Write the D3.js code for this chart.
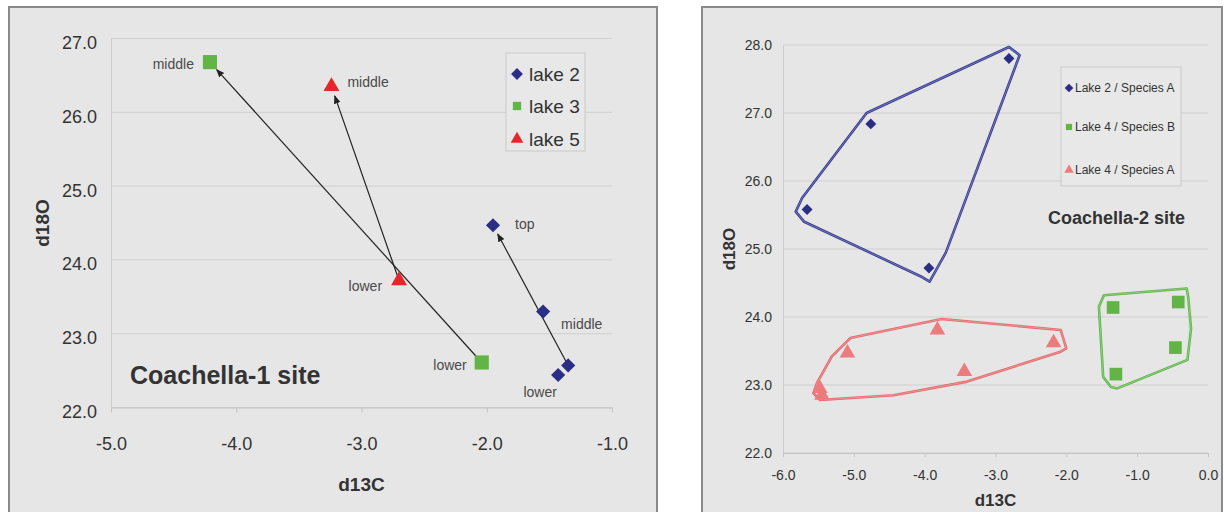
<!DOCTYPE html>
<html>
<head>
<meta charset="utf-8">
<script src="https://cdn.jsdelivr.net/npm/d3@7"></script>
<style>
  body { margin: 0; background: #fff; }
  svg { display: block; font-family: "Liberation Sans", Arial, sans-serif; }
</style>
</head>
<body>
<svg id="chart" width="1224" height="512"></svg>
<script>
// ---------- Coachella-1 site (left chart)
const leftXTicks = [-5, -4, -3, -2, -1]
const leftYTicks = [22, 23, 24, 25, 26, 27]

const lake2X = [-1.95, -1.55, -1.35, -1.43]
const lake2Y = [24.47, 23.30, 22.57, 22.44]
const lake2Labels = ["top", "middle", "", "lower"]

const lake3X = [-4.21, -2.04]
const lake3Y = [26.68, 22.61]
const lake3Labels = ["middle", "lower"]

const lake5X = [-3.24, -2.70]
const lake5Y = [26.35, 23.72]
const lake5Labels = ["middle", "lower"]

// arrows go from point index [0] to point index [1] inside each lake
const lake2Arrow = [2, 0]
const lake3Arrow = [1, 0]
const lake5Arrow = [1, 0]

// ---------- Coachella-2 site (right chart)
const rightXTicks = [-6, -5, -4, -3, -2, -1, 0]
const rightYTicks = [22, 23, 24, 25, 26, 27, 28]

const l2aX = [-2.81, -4.76, -5.66, -3.94]
const l2aY = [27.80, 26.84, 25.58, 24.72]

const l4bX = [-1.34, -0.42, -0.46, -1.30]
const l4bY = [24.14, 24.22, 23.55, 23.16]

const l4aX = [-5.09, -3.82, -3.44, -2.18, -5.48, -5.45]
const l4aY = [23.47, 23.81, 23.20, 23.62, 22.95, 22.85]

// hand drawn outlines around each group
const l2aHullX = [-2.81, -2.66, -3.70, -3.93, -4.06, -5.70, -5.82, -5.73, -4.82]
const l2aHullY = [27.97, 27.85, 24.95, 24.52, 24.60, 25.40, 25.55, 25.75, 27.00]
const l4bHullX = [-1.47, -0.30, -0.28, -0.24, -0.29, -1.28, -1.37, -1.48, -1.54]
const l4bHullY = [24.32, 24.42, 24.30, 23.83, 23.37, 22.95, 22.97, 23.12, 24.15]
const l4aHullX = [-5.57, -5.48, -4.44, -3.40, -2.08, -2.00, -2.08, -3.76, -5.05, -5.31, -5.52]
const l4aHullY = [22.88, 22.78, 22.85, 23.05, 23.49, 23.54, 23.81, 23.97, 23.69, 23.42, 23.03]

const navy = "#2a2e84"
const green = "#62b447"
const red = "#e6262b"
const pink = "#ec7b7d"

const svg = d3.select("#chart")

// marker arrow head
svg.append("defs").append("marker")
    .attr("id", "head")
    .attr("viewBox", "0 0 10 10")
    .attr("refX", 9).attr("refY", 5)
    .attr("markerWidth", 7).attr("markerHeight", 7)
    .attr("orient", "auto")
    .append("path")
    .attr("d", "M0,1 L10,5 L0,9 Z")
    .attr("fill", "#222")

// panel frames
function frame(x0, x1) {
    svg.append("rect")
        .attr("x", x0).attr("y", 7)
        .attr("width", x1 - x0).attr("height", 530)
        .attr("fill", "#e6e6e6")
        .attr("stroke", "#8a8a8a")
        .attr("stroke-width", 2)
}
frame(9, 657)
frame(702, 1222)

function symbolPath(kind, size) {
    if (kind == "diamond") return d3.symbol(d3.symbolSquare, size)()
    if (kind == "square") return d3.symbol(d3.symbolSquare, size)()
    return d3.symbol(d3.symbolTriangle, size)()
}
function symbolRot(kind) { return kind == "diamond" ? " rotate(45)" : "" }

function axes(x, y, xTicks, yTicks, o) {
    let g = svg.append("g")
    // horizontal grid
    g.selectAll("line.grid")
        .data(yTicks)
        .join("line")
        .attr("x1", x.range()[0]).attr("x2", x.range()[1])
        .attr("y1", y).attr("y2", y)
        .attr("stroke", "#cfcfcf")

    let ya = g.append("g")
        .attr("transform", "translate(" + x.range()[0] + ",0)")
        .call(d3.axisLeft(y).tickValues(yTicks).tickFormat(d => d.toFixed(1))
            .tickSize(0).tickSizeOuter(0).tickPadding(o.yPad))
    ya.select(".domain").attr("stroke", "#cccccc")
    ya.selectAll("text")
        .attr("dy", o.yDy)
        .style("font-size", o.tickFont + "px")
        .attr("fill", "#333")

    let xa = g.append("g")
        .attr("transform", "translate(0," + y.range()[0] + ")")
        .call(d3.axisBottom(x).tickValues(xTicks).tickFormat(d => d.toFixed(1))
            .tickSize(o.tickLen).tickSizeOuter(0).tickPadding(o.xPad))
    xa.select(".domain").attr("stroke", "#c4c4c4")
    xa.selectAll("line").attr("stroke", "#c4c4c4")
    xa.selectAll("text")
        .style("font-size", o.tickFont + "px")
        .attr("fill", "#333")

    // axis titles
    g.append("text")
        .attr("x", (x.range()[0] + x.range()[1]) / 2)
        .attr("y", o.xTitleY)
        .attr("text-anchor", "middle")
        .style("font-size", o.titleFont + "px")
        .style("font-weight", "bold")
        .attr("fill", "#333")
        .text("d13C")
    g.append("text")
        .attr("transform", "translate(" + o.yTitleX + "," + (y.range()[0] + y.range()[1]) / 2 + ") rotate(-90)")
        .attr("text-anchor", "middle")
        .style("font-size", o.titleFont + "px")
        .style("font-weight", "bold")
        .attr("fill", "#333")
        .text("d18O")
}

function points(x, y, xs, ys, kind, size, color) {
    svg.append("g")
        .selectAll("path")
        .data(xs.map((v, i) => [v, ys[i]]))
        .join("path")
        .attr("d", symbolPath(kind, size))
        .attr("transform", d => "translate(" + x(d[0]) + "," + y(d[1]) + ")" + symbolRot(kind))
        .attr("fill", color)
}

function legend(items, box, o) {
    let lg = svg.append("g")
    lg.append("rect")
        .attr("x", box[0]).attr("y", box[1])
        .attr("width", box[2]).attr("height", box[3])
        .attr("fill", "#e8e8e8")
        .attr("stroke", "#c9c9c9")
    let row = lg.selectAll("g")
        .data(items)
        .join("g")
        .attr("transform", (d, i) => "translate(" + o.mx + "," + o.rows[i] + ")")
    row.append("path")
        .attr("d", d => symbolPath(d.kind, o.size))
        .attr("transform", d => symbolRot(d.kind).trim() || null)
        .attr("fill", d => d.color)
    row.append("text")
        .attr("x", o.tx)
        .attr("dy", "0.36em")
        .style("font-size", o.font + "px")
        .attr("fill", "#333")
        .text(d => d.name)
}

// ================= left chart
const x1 = d3.scaleLinear().domain([-5, -1]).range([111, 612])
const y1 = d3.scaleLinear().domain([22, 27]).range([407.5, 38.5])

axes(x1, y1, leftXTicks, leftYTicks, {
    yPad: 14, yDy: "0.55em", tickFont: 18, tickLen: 5, xPad: 25,
    xTitleY: 491, yTitleX: 49, titleFont: 19
})

// arrows between layers
function arrow(xs, ys, pair) {
    let a = [x1(xs[pair[0]]), y1(ys[pair[0]])]
    let b = [x1(xs[pair[1]]), y1(ys[pair[1]])]
    let len = Math.hypot(b[0] - a[0], b[1] - a[1])
    let k = (len - 10) / len
    svg.append("line")
        .attr("x1", a[0]).attr("y1", a[1])
        .attr("x2", a[0] + (b[0] - a[0]) * k).attr("y2", a[1] + (b[1] - a[1]) * k)
        .attr("stroke", "#222")
        .attr("stroke-width", 1.2)
        .attr("marker-end", "url(#head)")
}
arrow(lake3X, lake3Y, lake3Arrow)
arrow(lake5X, lake5Y, lake5Arrow)
arrow(lake2X, lake2Y, lake2Arrow)

points(x1, y1, lake2X, lake2Y, "diamond", 100, navy)
points(x1, y1, lake3X, lake3Y, "square", 200, green)
points(x1, y1, lake5X, lake5Y, "triangle", 110, red)

// point labels, offsets in px from the marker: [dx, dy, anchor]
const lake2LabelPos = [[22, 4, "start"], [18, 17, "start"], [0, 0, "start"], [-18, 22, "middle"]]
const lake3LabelPos = [[-16, 7, "end"], [-15, 8, "end"]]
const lake5LabelPos = [[16, 1, "start"], [-17, 10, "end"]]

function labels(xs, ys, names, pos) {
    svg.append("g")
        .selectAll("text")
        .data(names)
        .join("text")
        .attr("x", (d, i) => x1(xs[i]) + pos[i][0])
        .attr("y", (d, i) => y1(ys[i]) + pos[i][1])
        .attr("text-anchor", (d, i) => pos[i][2])
        .style("font-size", "14px")
        .attr("fill", "#4a4a4a")
        .text(d => d)
}
labels(lake2X, lake2Y, lake2Labels, lake2LabelPos)
labels(lake3X, lake3Y, lake3Labels, lake3LabelPos)
labels(lake5X, lake5Y, lake5Labels, lake5LabelPos)

svg.append("text")
    .attr("x", 130).attr("y", 384)
    .style("font-size", "25px")
    .style("font-weight", "bold")
    .attr("fill", "#333")
    .text("Coachella-1 site")

legend([
    { name: "lake 2", kind: "diamond", color: navy },
    { name: "lake 3", kind: "square", color: green },
    { name: "lake 5", kind: "triangle", color: red }
], [506, 53, 79, 98], { mx: 517, rows: [74, 106, 139], size: 70, tx: 12, font: 19 })

// ================= right chart
const x2 = d3.scaleLinear().domain([-6, 0]).range([783, 1208])
const y2 = d3.scaleLinear().domain([22, 28]).range([453, 45])

axes(x2, y2, rightXTicks, rightYTicks, {
    yPad: 11, yDy: "0.32em", tickFont: 14, tickLen: 4, xPad: 13,
    xTitleY: 506, yTitleX: 735, titleFont: 17
})

const hull = d3.line()
    .x(d => x2(d[0]))
    .y(d => y2(d[1]))
    .curve(d3.curveLinearClosed)

function outline(xs, ys, color) {
    let pts = xs.map((v, i) => [v, ys[i]])
    svg.append("path")
        .attr("d", hull(pts))
        .attr("fill", "none")
        .attr("stroke", color)
        .attr("stroke-width", 2.6)
        .attr("stroke-linejoin", "round")
    svg.append("path")
        .attr("d", hull(pts))
        .attr("fill", "none")
        .attr("stroke", "#e6e6e6")
        .attr("stroke-opacity", 0.55)
        .attr("stroke-width", 0.7)
}
outline(l2aHullX, l2aHullY, "#343991")
outline(l4aHullX, l4aHullY, "#e86668")
outline(l4bHullX, l4bHullY, "#5cb744")

points(x2, y2, l2aX, l2aY, "diamond", 60, navy)
points(x2, y2, l4bX, l4bY, "square", 160, green)
points(x2, y2, l4aX, l4aY, "triangle", 105, pink)

legend([
    { name: "Lake 2 / Species A", kind: "diamond", color: navy },
    { name: "Lake 4 / Species B", kind: "square", color: green },
    { name: "Lake 4 / Species A", kind: "triangle", color: pink }
], [1061, 67, 120, 119], { mx: 1069, rows: [88, 127, 170], size: 38, tx: 6, font: 12 })

svg.append("text")
    .attr("x", 1048).attr("y", 224)
    .style("font-size", "18px")
    .style("font-weight", "bold")
    .attr("fill", "#333")
    .text("Coachella-2 site")
</script>
</body>
</html>
